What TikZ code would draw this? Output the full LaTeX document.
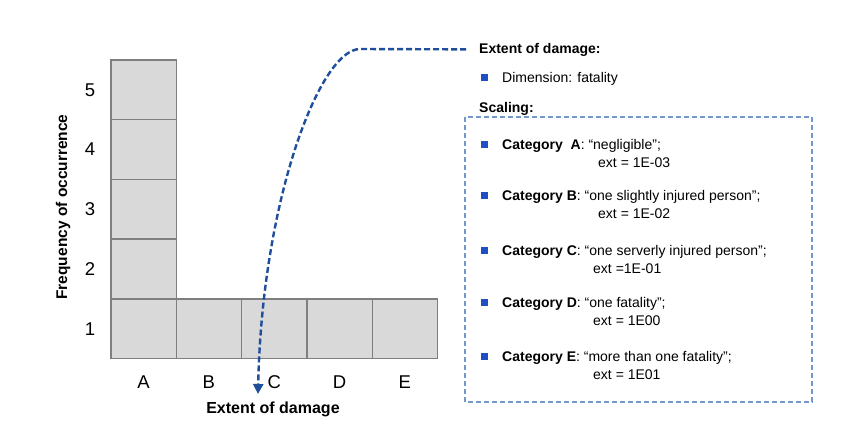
\documentclass[tikz,border=0pt]{standalone}
\usepackage{fontspec}
\setmainfont{Liberation Sans}
\usetikzlibrary{arrows.meta}
\definecolor{cellgray}{HTML}{D9D9D9}
\definecolor{linegray}{HTML}{7F7F7F}
\definecolor{arrowblue}{HTML}{1F4E9A}
\definecolor{boxblue}{HTML}{7396CF}
\definecolor{bulletblue}{HTML}{1F4FC4}
\newcommand{\sqbullet}{\textcolor{bulletblue}{\rule{7pt}{7pt}}}
\begin{document}
\begin{tikzpicture}[x=1pt,y=-1pt,
    cell/.style={draw=linegray,fill=cellgray,line width=1.4pt},
    num/.style={font=\fontsize{18.5}{18.5}\selectfont},
    axistitle/.style={font=\bfseries\fontsize{15.5}{15.5}\selectfont},
    txt/.style={anchor=base west,inner sep=0pt,font=\fontsize{14}{14}\selectfont},
    head/.style={txt,font=\bfseries\fontsize{14}{14}\selectfont},
    bul/.style={inner sep=0pt}]
  \useasboundingbox (0,0) rectangle (846,424);
  % cells of the matrix
  \foreach \c in {0,...,4}
    \draw[cell] (111+65.3*\c,298.8) rectangle ++(65.3,59.7);
  \foreach \r in {1,...,4}
    \draw[cell] (111,298.8-59.7*\r) rectangle ++(65.3,59.7);
  % axis labels
  \foreach \n in {1,...,5}
    \node[num] (f\n) at (90,358.5-59.7*\n+29.85) {\n};
  \foreach \l [count=\i from 0] in {A,B,C,D,E}
    \node[num] (e\l) at (143.6+65.3*\i,382) {\l};
  \node[axistitle,rotate=90] (freq) at (63,207) {Frequency of occurrence};
  \node[axistitle,font=\bfseries\fontsize{16}{16}\selectfont] (extent) at (273,409) {Extent of damage};
  % legend on the right
  \node[head] (ext) at (479,53) {Extent of damage:};
  \node[bul] (b0) at (484,77) {\sqbullet};
  \node[txt] (dim) at (502,82) {Dimension: fatality};
  \node[head] (scal) at (479,112) {Scaling:};
  \draw[boxblue,line width=1.4pt,dash pattern=on 5pt off 3pt] (465,117) rectangle (812,402);
  \foreach \k/\cat/\what/\val/\y/\vx in {%
      A/{\ A}/{“negligible”;}/{ext = 1E-03}/144/598,
      B/B/{“one slightly injured person”;}/{ext = 1E-02}/195/598,
      C/C/{“one serverly injured person”;}/{ext =1E-01}/250/593,
      D/D/{“one fatality”;}/{ext = 1E00}/302/593,
      E/E/{“more than one fatality”;}/{ext = 1E01}/356/593}{
    \node[bul] (b\k) at (484,\y) {\sqbullet};
    \node[txt] (cat\k) at (502,\y+5) {\textbf{Category \cat}: \what};
    \node[txt] (val\k) at (\vx,\y+23) {\val};
  }
  % pointer from the legend to the axis
  \coordinate (tip) at (258,394);
  \draw[arrowblue,line width=2.4pt,dash pattern=on 6pt off 3pt,shorten <=13pt,
      -{Triangle[length=10pt,width=10pt]}]
    (ext.west) -- (360,49) .. controls (320,49) and (262,200) .. (tip);
\end{tikzpicture}
\end{document}
